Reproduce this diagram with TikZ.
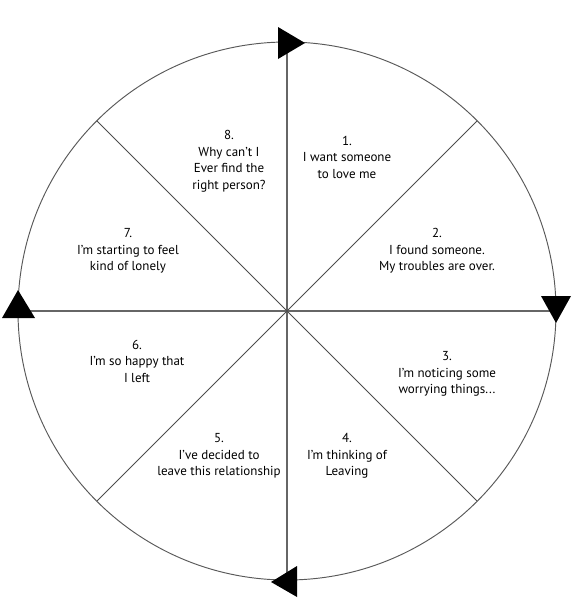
\documentclass[tikz,border=0pt]{standalone}
\usepackage{fontspec}
\setmainfont{PT Sans}
\begin{document}
\begin{tikzpicture}[x=1pt,y=-1pt,
  ring/.style={draw=black!65, line width=0.95pt},
  spoke/.style={draw=black!60, line width=1.1pt},
  diag/.style={draw=black!70, line width=0.9pt},
  arrowtri/.style={fill=black, draw=none},
  label/.style={align=center, text=black, font=\fontsize{13}{16.5}\selectfont, inner sep=0pt}]
\useasboundingbox (0,0) rectangle (574,600);
\coordinate (c) at (287,311);
\draw[ring] (c) circle [radius=269];
\coordinate (n) at (287,42);
\coordinate (s) at (287,580);
\coordinate (w) at (18,311);
\coordinate (e) at (556,311);
\path (c) ++(45:269) coordinate (se);
\path (c) ++(135:269) coordinate (sw);
\path (c) ++(-45:269) coordinate (ne);
\path (c) ++(-135:269) coordinate (nw);
\draw[spoke] (n) -- (s);
\draw[spoke] (w) -- (e);
\draw[diag] (ne) -- (sw);
\draw[diag] (nw) -- (se);
% arrow triangles (clockwise)
\fill[arrowtri] (278,27) -- (305,43) -- (278,59) -- cycle;
\fill[arrowtri] (541,296) -- (571,296) -- (556,323) -- cycle;
\fill[arrowtri] (297,566) -- (297,597) -- (271,582) -- cycle;
\fill[arrowtri] (2,318) -- (35,318) -- (18,290) -- cycle;
% labels
\node[label] (t1) at (347,157) {1.\\I want someone\\to love me};
\node[label] (t2) at (437,251) {2.\\I found someone.\\My troubles are over.};
\node[label] (t3) at (447,374) {3.\\I’m noticing some\\worrying things...};
\node[label] (t4) at (347,456) {4.\\I’m thinking of\\Leaving};
\node[label] (t5) at (219,456) {5.\\I’ve decided to\\leave this relationship};
\node[label] (t6) at (137,361) {6.\\I’m so happy that\\I left};
\node[label] (t7) at (128,251) {7.\\I’m starting to feel\\kind of lonely};
\node[label] (t8) at (229,161) {8.\\Why can’t I\\Ever find the\\right person?};
\end{tikzpicture}
\end{document}
